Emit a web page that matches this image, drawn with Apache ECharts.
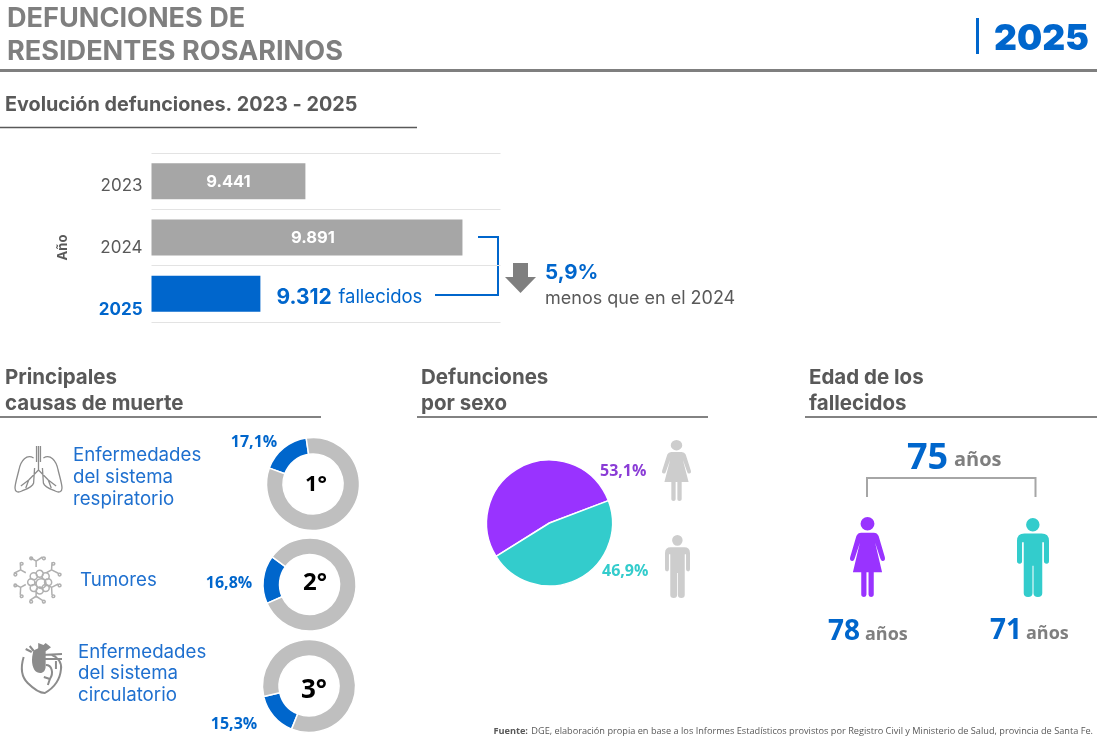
<!DOCTYPE html>
<html><head><meta charset="utf-8">
<style>html,body{margin:0;padding:0;background:#fff}#c{width:1100px;height:746px}</style>
<script src="https://cdn.jsdelivr.net/npm/echarts@6/dist/echarts.min.js"></script>
</head><body><div id="c"></div>
<script>
// ---- data ----
const years = ['2023','2024','2025'];
const deaths = [9441,9891,9312];
const causeNames = [['Enfermedades','del sistema','respiratorio'],['Tumores'],['Enfermedades','del sistema','circulatorio']];
const causeShares = [17.1,16.8,15.3];
const causeRanks = ['1°','2°','3°'];
const sexShares = [53.1,46.9];
const ageAll = 75, ageWomen = 78, ageMen = 71;
const changePct = '5,9%';

const BLUE='#0066CC', GREY='#A6A6A6', DONUT='#BFBFBF', PURPLE='#9933FF', TEAL='#33CCCC', TXT='#595959';
const RW='Inter', OS='"Open Sans"';
const fmtDots = v => String(v).replace(/\B(?=(\d{3})+$)/g,'.');
const fmtPct = v => v.toFixed(1).replace('.',',')+'%';

function T(x,y,text,size,fill,weight,family,align){
  return {type:'text',x,y,silent:true,style:{text,fontSize:size,fill,fontWeight:weight||'normal',fontFamily:family||RW,align:align||'left',verticalAlign:'middle'}};
}
function L(x1,y1,x2,y2,stroke,w){return {type:'line',silent:true,shape:{x1,y1,x2,y2},style:{stroke,lineWidth:w}};}
function P(d,x,y,width,height,style){return {type:'path',silent:true,shape:{pathData:d,layout:'cover',x,y,width,height},style};}

const WOMAN='M50 0a20 20 0 1 1-.01 0zM32 46L68 46Q78 46 82 56L100 118Q102 128 94 129Q89 130 87 122L72 76L92 162L68 162L68 228Q68 235 60 235Q53 235 53 228L53 162L47 162L47 228Q47 235 40 235Q32 235 32 228L32 162L8 162L28 76L13 122Q11 130 6 129Q-2 128 0 118L18 56Q22 46 32 46Z';
const MAN='M47 0a20 20 0 1 1-.01 0zM22 46L73 46Q95 46 95 68L95 128Q95 136 88 136Q80 136 80 128L80 72L75 72L75 224Q75 235 62 235Q49 235 49 224L49 142L46 142L46 224Q46 235 33 235Q20 235 20 224L20 72L15 72L15 128Q15 136 8 136Q0 136 0 128L0 68Q0 46 22 46Z';
const LUNGS='M24 0L24 24M24 24L14 34M24 24L34 34M14 34L6 40M14 34L11 42M34 34L42 40M34 34L37 42M19 12C12 8 6 14 4 24C2 32 0 38 0 42C0 46 3 47 7 45C12 43 18 41 19 37L20 22M29 12C36 8 42 14 44 24C46 32 48 38 48 42C48 46 45 47 41 45C36 43 30 41 29 37L28 22M22 0L22 16M26 0L26 16';
const HEART='M2 14C-1 24 0 34 6 40C12 46 18 50 23 50C30 46 38 38 39 26C40 20 36 14 30 12M20 12L40 11M22 16L40 16M4 6L10 9M8 3L12 8M24 22C30 22 32 30 28 36M28 36L22 34M28 36L26 42M34 18L34 26';
const HEARTFILL='M12 10C12 6 16 6 17 5L17 0L22 2L24 0L29 4L24 8L24 22C24 28 20 30 16 28C12 26 10 18 12 10Z';

const snow = (function(){ // decorative icon outline, unit box 48x48
  let d='';const c=(x,y,r)=>`M${(x+r).toFixed(1)} ${y.toFixed(1)}a${r} ${r} 0 1 1-.01 0z`;
  d+=c(24,24,5);
  for(let i=0;i<8;i++){const a=i*Math.PI/4;d+=c(24+8.5*Math.cos(a),24+8.5*Math.sin(a),3.6);}
  for(let i=0;i<6;i++){const a=Math.PI/2+i*Math.PI/3;
    const x1=24+12*Math.cos(a),y1=24+12*Math.sin(a),x2=24+18*Math.cos(a),y2=24+18*Math.sin(a);
    d+=`M${x1.toFixed(1)} ${y1.toFixed(1)}L${x2.toFixed(1)} ${y2.toFixed(1)}`;
    for(const s of [-.28,.28]){const xe=24+23*Math.cos(a+s),ye=24+23*Math.sin(a+s);
      d+=`M${x2.toFixed(1)} ${y2.toFixed(1)}L${xe.toFixed(1)} ${ye.toFixed(1)}`+c(xe,ye,1.4);}
  }
  return d;
})();

const icons=[
  P(LUNGS,15,446,47,46,{stroke:'#8C8C8C',lineWidth:1.3,fill:'none'}),
  P(snow,14,557,47,46,{stroke:'#B0B0B0',lineWidth:1.5,fill:'none'}),
  P(HEART,22,646,40,47,{stroke:'#8C8C8C',lineWidth:2,fill:'none'}),
  P(HEARTFILL,32,643,19,30,{fill:'#8C8C8C'}),
  P(WOMAN,662,440,29,61,{fill:'#CDCDCD'}),
  P(MAN,665,535,25,63,{fill:'#CDCDCD'}),
  P(WOMAN,850,517,35,80,{fill:PURPLE}),
  P(MAN,1017,518,32,79,{fill:TEAL})
];

const donutCentres=[[313,484],[309.5,584.5],[309,686]];
const donutStarts=[160,204,248];
const donutSeries=causeShares.map((v,i)=>({
  type:'pie',silent:true,animation:false,radius:[30,46.5],center:donutCentres[i],startAngle:donutStarts[i],
  label:{show:false},labelLine:{show:false},
  itemStyle:{borderColor:'#fff',borderWidth:1.5},
  data:[{value:v,itemStyle:{color:BLUE}},{value:+(100-v).toFixed(1),itemStyle:{color:DONUT}}]
}));

const causeLines=[[73,[455,477,499]],[80,[580]],[78,[652,673,695]]];
const causeTexts=[];
causeNames.forEach((lines,i)=>lines.forEach((s,j)=>causeTexts.push(T(causeLines[i][0],causeLines[i][1][j],s,18.7,'#1F70CF','normal',RW))));

const graphicEls=[
  T(7,19,'DEFUNCIONES DE',27.1,'#7F7F7F','bold'),
  T(7,52,'RESIDENTES ROSARINOS',27.1,'#7F7F7F','bold'),
  L(0,70.5,1097,70.5,'#7F7F7F',3),
  L(977.5,18,977.5,54,BLUE,3),
  T(994,39,'2025',35.5,BLUE,'900'),
  T(5,105,'Evolución defunciones. 2023 - 2025',19.8,TXT,'bold'),
  L(0,127.5,417,127.5,'#595959',1.5),
  T(5,378,'Principales',20.5,TXT,'bold'),T(5,404,'causas de muerte',20.5,TXT,'bold'),L(0,417,321,417,'#595959',1.5),
  T(421,378,'Defunciones',20.5,TXT,'bold'),T(421,404,'por sexo',20.5,TXT,'bold'),L(417,417,708,417,'#595959',1.5),
  T(809,378,'Edad de los',20.5,TXT,'bold'),T(809,404,'fallecidos',20.5,TXT,'bold'),L(805,417,1097,417,'#595959',1.5),
  {type:'polyline',silent:true,shape:{points:[[478,237],[498,237],[498,295],[435,295]]},style:{stroke:BLUE,lineWidth:2,fill:'none'}},
  {type:'polygon',silent:true,shape:{points:[[513,263],[528,263],[528,277],[536,277],[520.5,293],[505,277],[513,277]]},style:{fill:'#7F7F7F'}},
  T(545,273,changePct,20.5,BLUE,'bold'),
  T(545,299,'menos que en el 2024',18,TXT),
  ...causeTexts,
  T(254,442,fmtPct(causeShares[0]),16,BLUE,'bold',OS,'center'),
  T(229,583,fmtPct(causeShares[1]),16,BLUE,'bold',OS,'center'),
  T(234,724,fmtPct(causeShares[2]),16,BLUE,'bold',OS,'center'),
  T(316,485,causeRanks[0],22,'#000','bold',OS,'center'),
  T(315,583,causeRanks[1],24,'#000','bold',OS,'center'),
  T(314,691,causeRanks[2],26,'#000','bold',OS,'center'),
  T(600,471,fmtPct(sexShares[0]),16,'#8A3CD6','bold',OS),
  T(602,571,fmtPct(sexShares[1]),16,TEAL,'bold',OS),
  {type:'polyline',silent:true,shape:{points:[[867,497],[867,478],[1035.5,478],[1035.5,497]]},style:{stroke:'#A6A6A6',lineWidth:2,fill:'none'}},
  T(907,459,String(ageAll),36,BLUE,'bold',OS),T(954,460,'años',20,'#7F7F7F','bold',OS),
  T(828,632,String(ageWomen),28,BLUE,'bold',OS),T(865,635,'años',18,'#7F7F7F','bold',OS),
  T(990,631,String(ageMen),28,BLUE,'bold',OS),T(1026,634,'años',18,'#7F7F7F','bold',OS),
  {type:'text',x:1093,y:731,silent:true,style:{
    text:'{b|Fuente:} {n|DGE, elaboración propia en base a los Informes Estadísticos provistos por Registro Civil y Ministerio de Salud, provincia de Santa Fe.}',
    align:'right',verticalAlign:'middle',
    rich:{b:{fontFamily:OS,fontSize:9.2,fontWeight:'bold',fill:'#595959'},n:{fontFamily:OS,fontSize:9.2,fill:'#595959'}}}}
];

const barOffsets=[[0,1],[6,1]];
const chart=echarts.init(document.getElementById('c'),null,{width:1100,height:746});
chart.setOption({
  animation:false,backgroundColor:'#fff',
  grid:{left:151.5,top:153,width:349,height:169,containLabel:false},
  xAxis:{type:'value',min:9000,max:10000,show:false},
  yAxis:{type:'category',inverse:true,data:years,
    name:'Año',nameLocation:'middle',nameGap:82,nameRotate:90,
    nameTextStyle:{fontFamily:RW,fontWeight:'bold',fontSize:13,color:'#595959',padding:[0,20,0,0]},
    axisLine:{show:false},axisTick:{show:false},
    splitLine:{show:true,lineStyle:{color:'#E3E3E3',width:1}},
    axisLabel:{margin:9,fontFamily:RW,
      formatter:v=>'{y'+v+'|'+v+'}',
      rich:{y2023:{fontFamily:RW,fontSize:17,color:TXT,padding:[9,0,0,0]},
            y2024:{fontFamily:RW,fontSize:17,color:TXT,padding:[20,0,0,0]},
            y2025:{fontFamily:RW,fontSize:17,fontWeight:'bold',color:BLUE,padding:[32,0,0,0]}}}},
  series:[{type:'bar',silent:true,barWidth:36,
    data:deaths.map((v,i)=>({value:v,itemStyle:{color:i===2?BLUE:GREY},
      label:i===2?{show:true,position:'right',distance:15,offset:[1,4],
        formatter:p=>'{b|'+fmtDots(p.value)+'}  {n|fallecidos}',
        rich:{b:{fontFamily:RW,fontSize:21,fontWeight:'bold',color:BLUE},n:{fontFamily:RW,fontSize:18.5,color:BLUE}}}
       :{show:true,position:'inside',formatter:p=>fmtDots(p.value),fontFamily:RW,fontSize:16.5,fontWeight:'bold',color:'#fff',offset:barOffsets[i]}}))},
    ...donutSeries,
    {type:'pie',silent:true,radius:[0,63],center:[549.5,523],startAngle:212,label:{show:false},labelLine:{show:false},
      itemStyle:{borderColor:'#fff',borderWidth:1.5},
      data:[{value:sexShares[0],itemStyle:{color:PURPLE}},{value:sexShares[1],itemStyle:{color:TEAL}}]},
    {type:'custom',coordinateSystem:'none',silent:true,data:icons.map((_,i)=>[i]),renderItem:(p,api)=>icons[api.value(0)]}
  ],
  graphic:{elements:graphicEls}
});
</script></body></html>
